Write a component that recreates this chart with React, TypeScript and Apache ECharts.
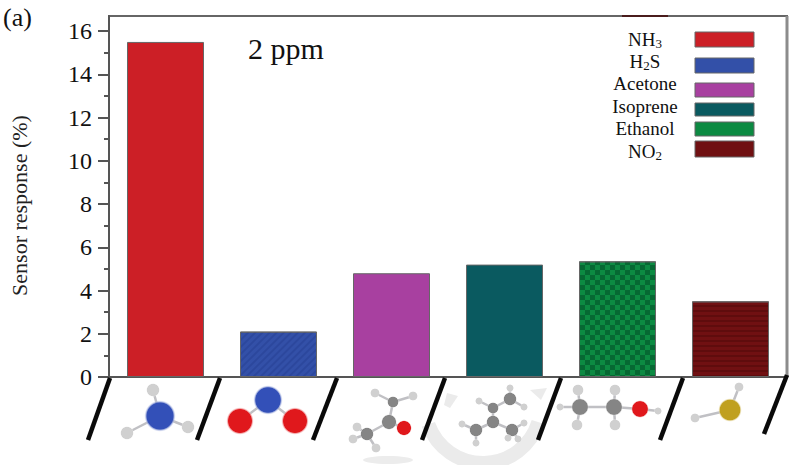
import React, { useEffect, useRef } from "react";
import * as echarts from "echarts";

const SERIF = '"Liberation Serif", "Times New Roman", serif';

const categories = ["NH3", "H2S", "Acetone", "Isoprene", "Ethanol", "NO2"];
const responses = [15.5, 2.1, 4.8, 5.2, 5.35, 3.5];
const barColors = ["#cc1f26", "#3350a8", "#a840a0", "#0a5a60", "#0c8a42", "#701012"];
const yMajorTicks = [0, 2, 4, 6, 8, 10, 12, 14, 16];
const yMinorTicks = [1, 3, 5, 7, 9, 11, 13, 15];
const legendLabels = ["NH{s|3}", "H{s|2}S", "Acetone", "Isoprene", "Ethanol", "NO{s|2}"];

// decorative layout
const legendRows = [
  { textY: 39, y: 32, h: 15 },
  { textY: 61, y: 58, h: 15 },
  { textY: 83, y: 83, h: 14 },
  { textY: 106, y: 103, h: 13 },
  { textY: 128, y: 122, h: 14 },
  { textY: 151, y: 141, h: 16 },
];
const slashes = [
  [110, 378, 88, 440], [220, 378, 197, 440], [337, 378, 313, 440],
  [445, 378, 422, 440], [561, 378, 538, 440], [683, 378, 660, 440], [787, 375, 764, 434],
];

type Atom = [number, number, number, string];
const N = "#3350b8", H = "#d0d0d0", C = "#858585", O = "#e0181c", S = "#c0a020";
const molecules: { atoms: Atom[]; bonds: [number, number][] }[] = [
  { atoms: [[160, 416, 16, N], [153, 390, 7, H], [127, 433, 7, H], [188, 427, 7, H]], bonds: [[0, 1], [0, 2], [0, 3]] },
  { atoms: [[268, 400, 15, N], [240, 421, 14, O], [295, 421, 14, O]], bonds: [[0, 1], [0, 2]] },
  {
    atoms: [[389, 422, 8, C], [393, 402, 6, C], [367, 434, 7, C], [404, 428, 8, O], [375, 393, 5, H], [413, 396, 5, H], [357, 427, 5, H], [353, 439, 5, H], [376, 448, 5, H]],
    bonds: [[0, 1], [0, 2], [0, 3], [1, 4], [1, 5], [2, 6], [2, 7], [2, 8]],
  },
  {
    atoms: [[510, 399, 7, C], [493, 408, 6, C], [493, 422, 7, C], [476, 430, 7, C], [512, 430, 7, C], [510, 388, 4, H], [479, 401, 4, H], [524, 407, 4, H], [462, 424, 4, H], [476, 443, 4, H], [524, 423, 4, H], [508, 438, 4, H], [518, 439, 4, H]],
    bonds: [[0, 1], [1, 2], [2, 3], [2, 4], [0, 5], [1, 6], [0, 7], [3, 8], [3, 9], [4, 10], [4, 11], [4, 12]],
  },
  {
    atoms: [[580, 407, 9, C], [614, 407, 9, C], [640, 409, 9, O], [658, 411, 4, H], [578, 390, 6, H], [615, 390, 6, H], [577, 425, 6, H], [615, 425, 6, H], [560, 407, 4, H]],
    bonds: [[0, 1], [1, 2], [2, 3], [0, 4], [1, 5], [0, 6], [1, 7], [0, 8]],
  },
  { atoms: [[730, 410, 12, S], [739, 387, 5, H], [695, 418, 5, H]], bonds: [[0, 1], [0, 2]] },
];

const decals: any[] = [
  undefined,
  { symbol: "rect", symbolSize: 1, dashArrayX: [1, 0], dashArrayY: [2, 3], rotation: -0.78, color: "rgba(20,40,120,0.22)" },
  undefined,
  undefined,
  { symbol: "rect", symbolSize: 1, dashArrayX: [[5, 5], [0, 5, 5, 0]], dashArrayY: [5, 0], color: "rgba(0,70,35,0.5)" },
  { symbol: "rect", symbolSize: 1, dashArrayX: [1, 0], dashArrayY: [2, 3], color: "rgba(50,0,0,0.28)" },
];

function moleculeGraphics() {
  const out: any[] = [];
  for (const m of molecules) {
    for (const [a, b] of m.bonds) {
      out.push({
        type: "line", silent: true, z: 5,
        shape: { x1: m.atoms[a][0], y1: m.atoms[a][1], x2: m.atoms[b][0], y2: m.atoms[b][1] },
        style: { stroke: "#c0c0c4", lineWidth: 2.5 },
      });
    }
    for (const [x, y, r, c] of m.atoms) {
      out.push({
        type: "circle", silent: true, z: 6,
        shape: { cx: x, cy: y, r },
        style: {
          fill: new echarts.graphic.RadialGradient(0.5, 0.5, 0.5, [
            { offset: 0, color: c },
            { offset: 0.82, color: c },
            { offset: 1, color: "rgba(255,255,255,0)" },
          ]),
        },
      });
    }
  }
  return out;
}

export default function App() {
  const ref = useRef<HTMLDivElement>(null);
  useEffect(() => {
    document.body.style.margin = "0";
    const chart = echarts.init(ref.current!, undefined, { renderer: "svg" });
    const yBase = {
      type: "value" as const, min: 0, max: 16.7,
      splitLine: { show: false }, position: "left" as const,
    };
    const graphic: any[] = [
      { type: "text", left: 3, top: 4, style: { text: "(a)", font: `26px ${SERIF}`, fill: "#111" } },
      { type: "text", x: 248, y: 33, style: { text: "2 ppm", font: `30px ${SERIF}`, fill: "#111" } },
      { type: "line", z: 4, shape: { x1: 787, y1: 16, x2: 787, y2: 377 }, style: { stroke: "#8c8c8c", lineWidth: 3 } },
      { type: "line", z: 4, shape: { x1: 622, y1: 16, x2: 668, y2: 16 }, style: { stroke: "#4a1c1c", lineWidth: 2 } },
      // faint watermark behind the molecules
      { type: "arc", z: 1, silent: true, shape: { cx: 483, cy: 405, r: 58, startAngle: 0.3, endAngle: 2.8 }, style: { stroke: "#ebebeb", fill: "none", lineWidth: 14 } },
      { type: "polygon", z: 1, silent: true, shape: { points: [[447, 393], [458, 396], [450, 408], [444, 405]] }, style: { fill: "#ebebeb" } },
      { type: "polygon", z: 1, silent: true, shape: { points: [[530, 390], [547, 388], [541, 400]] }, style: { fill: "#ebebeb" } },
      { type: "ellipse", z: 1, silent: true, shape: { cx: 388, cy: 460, rx: 25, ry: 4 }, style: { fill: "#ececec" } },
      ...slashes.map(([x1, y1, x2, y2]) => ({
        type: "line", z: 7, shape: { x1, y1, x2, y2 },
        style: { stroke: "#0a0a0a", lineWidth: 4.5 },
      })),
      ...legendRows.flatMap((row, i) => [
        {
          type: "text", z: 8, x: 645, y: row.textY,
          style: {
            text: legendLabels[i], font: `19px ${SERIF}`, fill: "#111",
            align: "center", verticalAlign: "middle",
            rich: { s: { font: `13px ${SERIF}`, fill: "#111", verticalAlign: "bottom", padding: [8, 0, 0, 0] } },
          },
        },
        {
          type: "rect", z: 8, shape: { x: 695, y: row.y, width: 59, height: row.h },
          style: { fill: barColors[i], stroke: "#666", lineWidth: 1 },
        },
      ]),
      ...moleculeGraphics(),
    ];
    chart.setOption({
      animation: false,
      backgroundColor: "#fff",
      grid: { left: 109, right: 13, top: 16, bottom: 88, show: true, borderColor: "#666", borderWidth: 2, containLabel: false },
      xAxis: {
        type: "category", data: categories,
        axisLine: { lineStyle: { color: "#555", width: 2 } },
        axisTick: { show: false }, axisLabel: { show: false },
      },
      yAxis: [
        {
          ...yBase,
          name: "Sensor response (%)", nameLocation: "middle", nameGap: 79, nameRotate: 90,
          nameTextStyle: { fontFamily: SERIF, fontSize: 22, color: "#222", padding: [0, 18, 0, 0] },
          axisLine: { show: true, lineStyle: { color: "#555", width: 2 } },
          axisTick: { show: true, length: 11, lineStyle: { color: "#555", width: 2 }, customValues: yMajorTicks },
          axisLabel: { fontFamily: SERIF, fontSize: 24, color: "#111", margin: 17, customValues: yMajorTicks },
        },
        {
          ...yBase,
          axisLine: { show: false },
          axisTick: { show: true, length: 5, lineStyle: { color: "#555", width: 2 }, customValues: yMinorTicks },
          axisLabel: { show: false },
        },
      ],
      series: [
        {
          type: "bar", name: "Sensor response", barWidth: 77, yAxisIndex: 0,
          data: responses.map((value, i) => ({
            value,
            itemStyle: { color: barColors[i], borderColor: "#666", borderWidth: 1, ...(decals[i] ? { decal: decals[i] } : {}) },
          })),
        },
      ],
      graphic,
    });
    return () => chart.dispose();
  }, []);
  return <div ref={ref} style={{ width: 800, height: 465 }} />;
}
